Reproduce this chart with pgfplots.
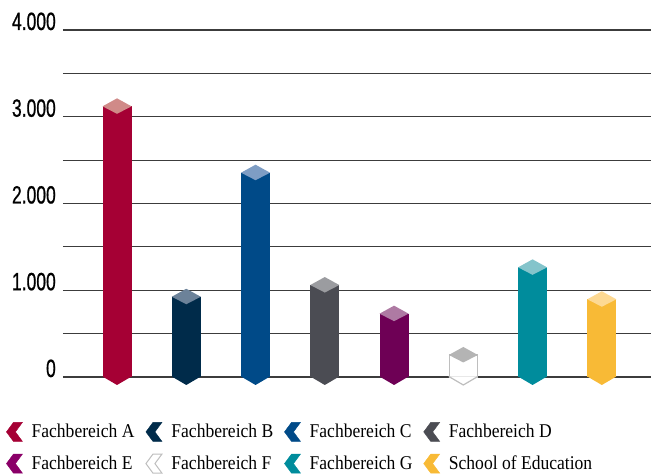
\documentclass[border=0pt]{standalone}
\usepackage{fontspec}
\setmainfont[FakeStretch=0.9]{Liberation Serif}
\newfontfamily\tickfont[FakeStretch=0.70, FakeBold=0.7]{Liberation Sans}
\usepackage{pgfplots}
\pgfplotsset{compat=1.18}

\definecolor{cA}{HTML}{A50034}\definecolor{cAt}{HTML}{D08A88}
\definecolor{cB}{HTML}{002B4A}\definecolor{cBt}{HTML}{6C8299}
\definecolor{cC}{HTML}{004A88}\definecolor{cCt}{HTML}{7E9DC4}
\definecolor{cD}{HTML}{4B4C53}\definecolor{cDt}{HTML}{9B9CA0}
\definecolor{cE}{HTML}{6E0055}\definecolor{cEt}{HTML}{AE7AA3}\definecolor{cEl}{HTML}{8A0068}
\definecolor{cFo}{HTML}{BEBEBE}\definecolor{cFt}{HTML}{B4B4B4}
\definecolor{cG}{HTML}{008C9C}\definecolor{cGt}{HTML}{84C4CB}
\definecolor{cS}{HTML}{F8BA36}\definecolor{cSt}{HTML}{FDD993}
\definecolor{gridc}{HTML}{3C3C3C}

% top of a bar: flat diamond
\pgfdeclareplotmark{topdia}{%
  \pgfpathmoveto{\pgfqpoint{-14.5pt}{0pt}}%
  \pgfpathlineto{\pgfqpoint{0pt}{8pt}}%
  \pgfpathlineto{\pgfqpoint{14.5pt}{0pt}}%
  \pgfpathlineto{\pgfqpoint{0pt}{-7.5pt}}%
  \pgfpathclose\pgfusepathqfill}
% bottom of a bar: downward point
\pgfdeclareplotmark{botv}{%
  \pgfpathmoveto{\pgfqpoint{-14.5pt}{0.5pt}}%
  \pgfpathlineto{\pgfqpoint{14.5pt}{0.5pt}}%
  \pgfpathlineto{\pgfqpoint{0pt}{-8pt}}%
  \pgfpathclose\pgfusepathqfill}
% same, outlined (white bar)
\pgfdeclareplotmark{botvo}{%
  \pgfpathmoveto{\pgfqpoint{-14.5pt}{0.5pt}}%
  \pgfpathlineto{\pgfqpoint{14.5pt}{0.5pt}}%
  \pgfpathlineto{\pgfqpoint{0pt}{-8pt}}%
  \pgfpathclose\pgfusepathqfill
  \pgfpathmoveto{\pgfqpoint{-14.5pt}{0.5pt}}%
  \pgfpathlineto{\pgfqpoint{0pt}{-8pt}}%
  \pgfpathlineto{\pgfqpoint{14.5pt}{0.5pt}}%
  \pgfusepathqstroke}

\newcommand{\chev}[1]{\addlegendimage{legend image code/.code={%
  \fill[#1] (0pt,0pt) -- (7pt,9.5pt) -- (16pt,9.5pt) -- (9pt,0pt)
    -- (16pt,-9.5pt) -- (7pt,-9.5pt) -- cycle;}}}

\begin{document}
\begin{tikzpicture}
\path[use as bounding box] (0,0) rectangle (651pt,476pt);
\begin{axis}[
    at={(63pt,99pt)}, anchor=south west,
    scale only axis, width=588pt, height=347pt,
    xmin=-0.78, xmax=7.71, ymin=0, ymax=4000,
    clip=false,
    axis line style={draw=none},
    xtick=\empty,
    ytick={0,1000,2000,3000,4000},
    minor ytick={500,1500,2500,3500},
    ymajorgrids, yminorgrids,
    major grid style={line width=1.1pt, gridc},
    minor grid style={line width=1.1pt, gridc},
    major tick length=0pt, minor tick length=0pt,
    yticklabel style={font=\tickfont\fontsize{25}{27}\selectfont,
      anchor=base east, inner sep=0pt, xshift=-7pt,
      /pgf/number format/1000 sep={.},
      /pgf/number format/assume math mode=true},
    legend columns=4, legend cell align=left,
    legend style={at={(axis description cs:-0.0969,-0.1297)}, anchor=north west,
      draw=none, fill=none, inner sep=0pt,
      font=\fontsize{19.5}{22}\selectfont,
      row sep=12pt, column sep=9pt,
      /tikz/every even column/.append style={column sep=11pt},
      nodes={inner sep=0pt}},
  ]

  % bodies with their tops
  \addplot[ybar, bar width=29pt, bar shift=0pt, fill=cA, draw=none, mark=topdia, mark options={fill=cAt}, forget plot] coordinates {(0,3120)};
  \addplot[ybar, bar width=29pt, bar shift=0pt, fill=cB, draw=none, mark=topdia, mark options={fill=cBt}, forget plot] coordinates {(1,925)};
  \addplot[ybar, bar width=29pt, bar shift=0pt, fill=cC, draw=none, mark=topdia, mark options={fill=cCt}, forget plot] coordinates {(2,2355)};
  \addplot[ybar, bar width=29pt, bar shift=0pt, fill=cD, draw=none, mark=topdia, mark options={fill=cDt}, forget plot] coordinates {(3,1060)};
  \addplot[ybar, bar width=29pt, bar shift=0pt, fill=cE, draw=none, mark=topdia, mark options={fill=cEt}, forget plot] coordinates {(4,730)};
  \addplot[ybar, bar width=28pt, bar shift=0pt, fill=white, draw=cFo, line width=1.2pt, mark=topdia, mark options={fill=cFt}, forget plot] coordinates {(5,254)};
  \addplot[ybar, bar width=29pt, bar shift=0pt, fill=cG, draw=none, mark=topdia, mark options={fill=cGt}, forget plot] coordinates {(6,1264)};
  \addplot[ybar, bar width=29pt, bar shift=0pt, fill=cS, draw=none, mark=topdia, mark options={fill=cSt}, forget plot] coordinates {(7,896)};

  % pointed bottoms
  \addplot[only marks, mark=botv, mark options={fill=cA}, forget plot] coordinates {(0,0)};
  \addplot[only marks, mark=botv, mark options={fill=cB}, forget plot] coordinates {(1,0)};
  \addplot[only marks, mark=botv, mark options={fill=cC}, forget plot] coordinates {(2,0)};
  \addplot[only marks, mark=botv, mark options={fill=cD}, forget plot] coordinates {(3,0)};
  \addplot[only marks, mark=botv, mark options={fill=cE}, forget plot] coordinates {(4,0)};
  \addplot[only marks, mark=botvo, mark options={fill=white, draw=cFo, line width=1.2pt}, forget plot] coordinates {(5,0)};
  \addplot[only marks, mark=botv, mark options={fill=cG}, forget plot] coordinates {(6,0)};
  \addplot[only marks, mark=botv, mark options={fill=cS}, forget plot] coordinates {(7,0)};

  \chev{cA}\addlegendentry{Fachbereich A}
  \chev{cB}\addlegendentry{Fachbereich B}
  \chev{cC}\addlegendentry{Fachbereich C}
  \chev{cD}\addlegendentry{Fachbereich D}
  \chev{cEl}\addlegendentry{Fachbereich E}
  \chev{fill=white, draw=cFo, line width=1pt}\addlegendentry{Fachbereich F}
  \chev{cG}\addlegendentry{Fachbereich G}
  \chev{cS}\addlegendentry{School of Education}
\end{axis}
\end{tikzpicture}
\end{document}
